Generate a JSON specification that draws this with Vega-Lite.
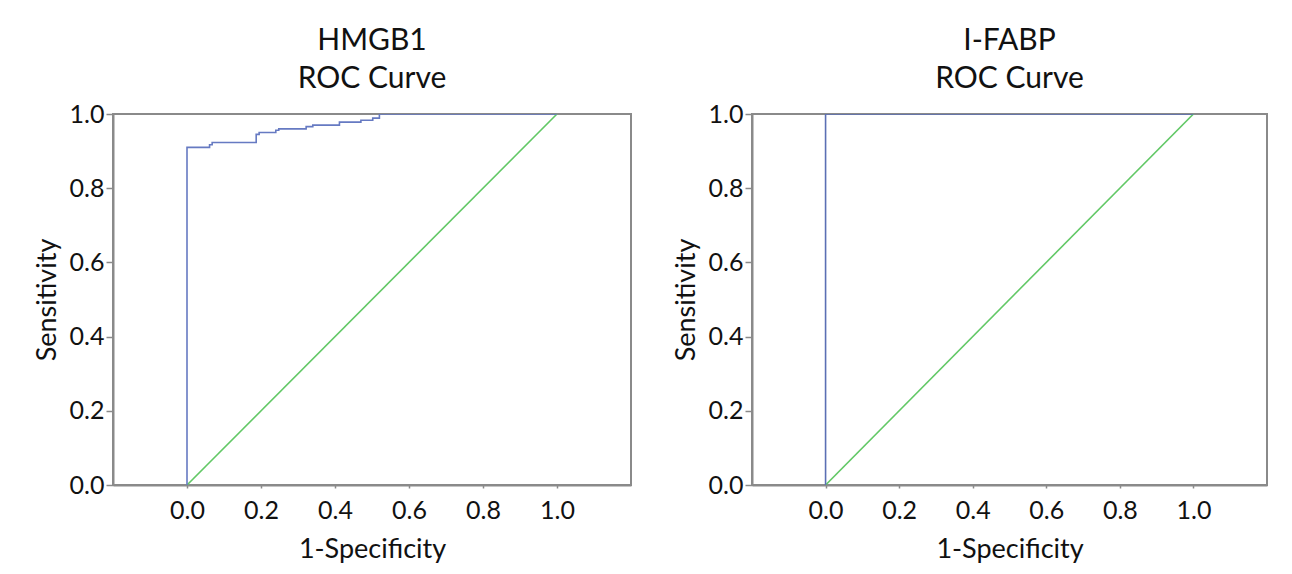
{
  "$schema": "https://vega.github.io/schema/vega-lite/v6.json",
  "background": "white",
  "padding": {"left": 32, "top": 25, "right": 20, "bottom": 5},
  "spacing": 39,
  "config": {
    "font": "Lato",
    "view": {"stroke": "#8a8a8a", "strokeWidth": 2},
    "axis": {
      "grid": false,
      "domainColor": "#8a8a8a",
      "domainWidth": 2,
      "tickColor": "#8a8a8a",
      "tickWidth": 1.5,
      "labelFont": "Lato",
      "labelFontSize": 25,
      "labelColor": "#111",
      "titleFont": "Lato",
      "titleFontSize": 27,
      "titleFontWeight": "normal",
      "titleColor": "#111"
    },
    "title": {"font": "Lato", "fontSize": 30, "fontWeight": "normal", "color": "#111", "lineHeight": 38, "offset": 8}
  },
  "datasets": {
    "roc": [
      {"panel": "HMGB1", "series": "curve", "ord": 1, "fpr": 0.0, "tpr": 0.0},
      {"panel": "HMGB1", "series": "curve", "ord": 2, "fpr": 0.0, "tpr": 0.910},
      {"panel": "HMGB1", "series": "curve", "ord": 3, "fpr": 0.061, "tpr": 0.917},
      {"panel": "HMGB1", "series": "curve", "ord": 4, "fpr": 0.068, "tpr": 0.923},
      {"panel": "HMGB1", "series": "curve", "ord": 5, "fpr": 0.187, "tpr": 0.945},
      {"panel": "HMGB1", "series": "curve", "ord": 6, "fpr": 0.195, "tpr": 0.950},
      {"panel": "HMGB1", "series": "curve", "ord": 7, "fpr": 0.240, "tpr": 0.956},
      {"panel": "HMGB1", "series": "curve", "ord": 8, "fpr": 0.248, "tpr": 0.960},
      {"panel": "HMGB1", "series": "curve", "ord": 9, "fpr": 0.322, "tpr": 0.966},
      {"panel": "HMGB1", "series": "curve", "ord": 10, "fpr": 0.340, "tpr": 0.970},
      {"panel": "HMGB1", "series": "curve", "ord": 11, "fpr": 0.412, "tpr": 0.978},
      {"panel": "HMGB1", "series": "curve", "ord": 12, "fpr": 0.470, "tpr": 0.983},
      {"panel": "HMGB1", "series": "curve", "ord": 13, "fpr": 0.502, "tpr": 0.989},
      {"panel": "HMGB1", "series": "curve", "ord": 14, "fpr": 0.520, "tpr": 1.0},
      {"panel": "HMGB1", "series": "curve", "ord": 15, "fpr": 1.0, "tpr": 1.0},
      {"panel": "HMGB1", "series": "ref", "ord": 1, "fpr": 0.0, "tpr": 0.0},
      {"panel": "HMGB1", "series": "ref", "ord": 2, "fpr": 1.0, "tpr": 1.0},
      {"panel": "I-FABP", "series": "curve", "ord": 1, "fpr": 0.0, "tpr": 0.0},
      {"panel": "I-FABP", "series": "curve", "ord": 2, "fpr": 0.0, "tpr": 1.0},
      {"panel": "I-FABP", "series": "curve", "ord": 3, "fpr": 1.0, "tpr": 1.0},
      {"panel": "I-FABP", "series": "ref", "ord": 1, "fpr": 0.0, "tpr": 0.0},
      {"panel": "I-FABP", "series": "ref", "ord": 2, "fpr": 1.0, "tpr": 1.0}
    ]
  },
  "hconcat": [
    {
      "title": {"text": ["HMGB1", "ROC Curve"]},
      "width": 518,
      "height": 371,
      "data": {"name": "roc"},
      "transform": [{"filter": "datum.panel === 'HMGB1'"}],
      "encoding": {
        "x": {"field": "fpr", "type": "quantitative", "scale": {"domain": [-0.2, 1.2], "nice": false, "zero": false},
          "axis": {"values": [0, 0.2, 0.4, 0.6, 0.8, 1.0], "format": ".1f", "title": "1-Specificity", "tickSize": 3, "labelPadding": 10, "titlePadding": 13}},
        "y": {"field": "tpr", "type": "quantitative", "scale": {"domain": [0, 1], "nice": false},
          "axis": {"values": [0, 0.2, 0.4, 0.6, 0.8, 1.0], "format": ".1f", "title": "Sensitivity", "tickSize": 7, "labelPadding": 2, "titlePadding": 8}},
        "order": {"field": "ord"}
      },
      "layer": [
        {
          "transform": [{"filter": "datum.series === 'ref'"}],
          "mark": {"type": "line", "color": "#62c866", "strokeWidth": 1.6, "clip": true}
        },
        {
          "transform": [{"filter": "datum.series === 'curve'"}],
          "mark": {"type": "line", "interpolate": "step-after", "color": "#667ac2", "strokeWidth": 1.6, "clip": true}
        }
      ]
    },
    {
      "title": {"text": ["I-FABP", "ROC Curve"]},
      "width": 515,
      "height": 371,
      "data": {"name": "roc"},
      "transform": [{"filter": "datum.panel === 'I-FABP'"}],
      "encoding": {
        "x": {"field": "fpr", "type": "quantitative", "scale": {"domain": [-0.2, 1.2], "nice": false, "zero": false},
          "axis": {"values": [0, 0.2, 0.4, 0.6, 0.8, 1.0], "format": ".1f", "title": "1-Specificity", "tickSize": 3, "labelPadding": 10, "titlePadding": 13}},
        "y": {"field": "tpr", "type": "quantitative", "scale": {"domain": [0, 1], "nice": false},
          "axis": {"values": [0, 0.2, 0.4, 0.6, 0.8, 1.0], "format": ".1f", "title": "Sensitivity", "tickSize": 7, "labelPadding": 2, "titlePadding": 8}},
        "order": {"field": "ord"}
      },
      "layer": [
        {
          "transform": [{"filter": "datum.series === 'ref'"}],
          "mark": {"type": "line", "color": "#62c866", "strokeWidth": 1.6, "clip": true}
        },
        {
          "transform": [{"filter": "datum.series === 'curve'"}],
          "mark": {"type": "line", "interpolate": "step-after", "color": "#5b6fb4", "strokeWidth": 1.6, "clip": true}
        }
      ]
    }
  ]
}
